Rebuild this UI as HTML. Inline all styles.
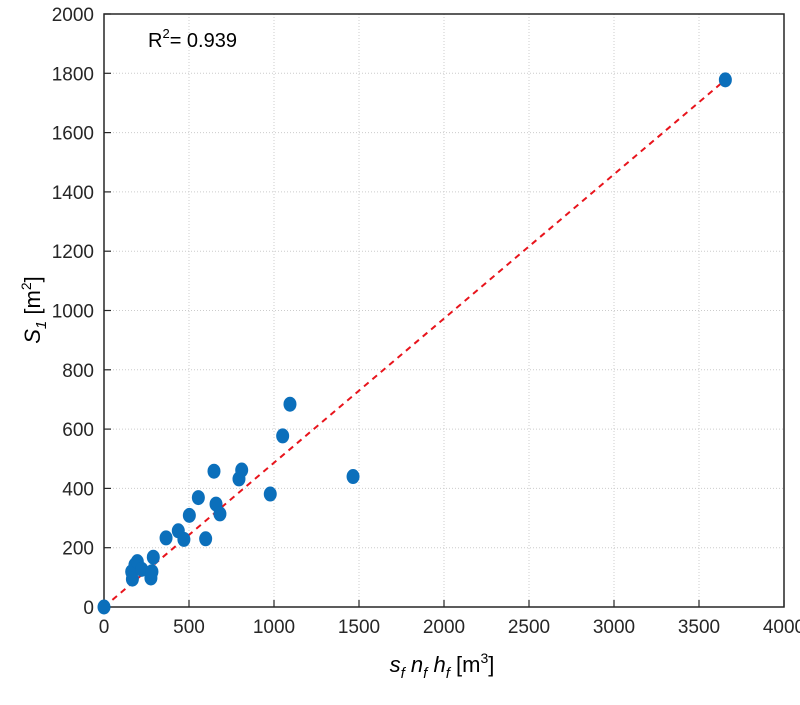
<!DOCTYPE html>
<html><head><meta charset="utf-8"><style>
body{margin:0;background:#fff;font-family:"Liberation Sans",sans-serif;}
.tl{font-family:"Liberation Sans Narrow","Liberation Sans",sans-serif;}
</style></head><body>
<svg id="c" width="800" height="700" xmlns="http://www.w3.org/2000/svg">
<g id="grid"></g>
<rect x="104" y="14" width="680" height="593" fill="none" stroke="#262626" stroke-width="1.5"/>
<g id="ticks"></g><g id="marks"></g>
<text x="148" y="47" font-size="20" fill="#000">R<tspan dy="-9" font-size="13">2</tspan><tspan dy="9">= 0.939</tspan></text>
<text x="442" y="672" font-size="22" text-anchor="middle"><tspan font-style="italic">s</tspan><tspan font-style="italic" dy="6" font-size="15">f</tspan><tspan dy="-6"> </tspan><tspan font-style="italic">n</tspan><tspan font-style="italic" dy="6" font-size="15">f</tspan><tspan dy="-6"> </tspan><tspan font-style="italic">h</tspan><tspan font-style="italic" dy="6" font-size="15">f</tspan><tspan dy="-6"> [m</tspan><tspan dy="-9" font-size="14">3</tspan><tspan dy="9">]</tspan></text>
<text transform="translate(40,310) rotate(-90)" font-size="22" text-anchor="middle"><tspan font-style="italic">S</tspan><tspan font-style="italic" dy="6" font-size="15">1</tspan><tspan dy="-6"> [m</tspan><tspan dy="-9" font-size="14">2</tspan><tspan dy="9">]</tspan></text>
</svg>
<script>
const xTicks=[0,500,1000,1500,2000,2500,3000,3500,4000];
const yTicks=[0,200,400,600,800,1000,1200,1400,1600,1800,2000];
const xVals=[0,167,163,182,196,222,276,282,290,365,437,470,502,555,598,647,659,682,794,810,978,1051,1094,1465,3655];
const yVals=[0,94,119,142,153,127,98,119,168,233,257,228,309,369,230,458,347,314,432,462,381,577,684,440,1778];
const fitX=[0,3655];
const fitY=[0,1778];
const X=v=>104+v/4000*680, Y=v=>607-v/2000*593;
const NS="http://www.w3.org/2000/svg";
function mk(t,a,p){const e=document.createElementNS(NS,t);for(const k in a)e.setAttribute(k,a[k]);p.appendChild(e);return e;}
const g=document.getElementById('grid'),tk=document.getElementById('ticks'),m=document.getElementById('marks');
xTicks.forEach(v=>{
 const l=mk('line',{x1:X(v),x2:X(v),y1:14,y2:607,stroke:'#ccc','stroke-dasharray':'1,2'},g);
 
 
 const k=mk('line',{x1:X(v),x2:X(v),y1:607,y2:600,stroke:'#262626','stroke-width':1.2},tk);
 
 
 const t=mk('text',{x:X(v),y:633,'font-size':19,'text-anchor':'middle',fill:'#262626','class':'tl'},tk);t.textContent=v;
 
 
});
yTicks.forEach(v=>{
 const l=mk('line',{x1:104,x2:784,y1:Y(v),y2:Y(v),stroke:'#ccc','stroke-dasharray':'1,2'},g);
 
 
 const k=mk('line',{x1:104,x2:111,y1:Y(v),y2:Y(v),stroke:'#262626','stroke-width':1.2},tk);
 
 
 const t=mk('text',{x:94,y:Y(v)+7,'font-size':19,'text-anchor':'end',fill:'#262626','class':'tl'},tk);t.textContent=v;
 
 
});
const fl=mk('line',{x1:X(fitX[0]),y1:Y(fitY[0]),x2:X(fitX[1]),y2:Y(fitY[1]),stroke:'#e8141c','stroke-width':2,'stroke-dasharray':'6,5'},m);


xVals.forEach((v,i)=>{
 const c=mk('ellipse',{cx:X(v),cy:Y(yVals[i]),rx:6.5,ry:7.5,fill:'#0b6fbb'},m);
 
 
});
</script>
</body></html>
